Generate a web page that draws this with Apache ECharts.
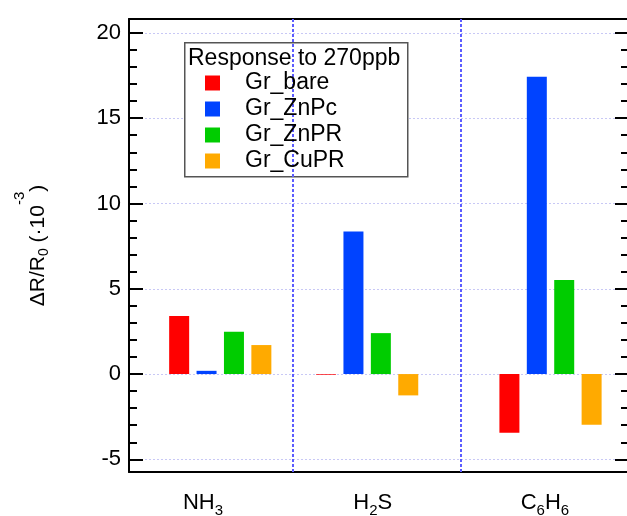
<!DOCTYPE html>
<html>
<head>
<meta charset="utf-8">
<script src="https://cdn.jsdelivr.net/npm/echarts@6/dist/echarts.min.js"></script>
<style>
  html, body { margin: 0; padding: 0; background: #fff; }
  #chart { width: 627px; height: 516px; }
</style>
</head>
<body>
<div id="chart"></div>
<script>
// gases along x (numeric x scale, as in the source plot)
const gasLabels = ["NH{s|3}", "H{s|2}S", "C{s|6}H{s|6}"];
const gasX = [1.068, 1.942, 3.033];   // centre of each bar group
const labelX = [0.965, 1.975, 3.0];   // x of the gas names
const dividerX = [1.5, 2.5];

// response to 270ppb, dR/R0 (x1e-3)
const seriesNames = ["Gr_bare", "Gr_ZnPc", "Gr_ZnPR", "Gr_CuPR"];
const grBare = [3.40, -0.04, -3.44];
const grZnPc = [0.19, 8.35, 17.43];
const grZnPR = [2.48, 2.40, 5.51];
const grCuPR = [1.70, -1.25, -2.97];
const colors = ["#ff0000", "#0043ff", "#00cc00", "#ffaa00"];

const yMin = -5.74, yMax = 20.81;
const xMin = 0.525, xMax = 3.5;

const font = "'Liberation Sans', Arial, sans-serif";
const values = [grBare, grZnPc, grZnPR, grCuPR];

const series = seriesNames.map(function (name, i) {
  return {
    name: name,
    type: "bar",
    xAxisIndex: 0,
    yAxisIndex: 0,
    barWidth: 20,
    barGap: "37%",
    itemStyle: { color: colors[i] },
    data: values[i].map(function (v, j) { return [gasX[j], v]; })
  };
});

// vertical dividers between gases (own series so bar offsets don't shift them)
series.push({
  name: "dividers",
  type: "line",
  xAxisIndex: 0,
  yAxisIndex: 0,
  data: [],
  markLine: {
    silent: true,
    symbol: "none",
    label: { show: false },
    lineStyle: { color: "#5c5cff", type: [3, 2], width: 2 },
    data: dividerX.map(function (x) { return { xAxis: x }; })
  }
});

const tickStyle = { color: "#000", width: 2 };

const option = {
  animation: false,
  backgroundColor: "#fff",
  textStyle: { fontFamily: font },
  grid: { left: 129, top: 19, width: 500, height: 453, containLabel: false, outerBoundsMode: "none" },
  legend: {
    data: seriesNames,
    orient: "vertical",
    left: 205,
    top: 70,
    padding: 0,
    itemGap: 0,
    itemWidth: 15,
    itemHeight: 15,
    icon: "rect",
    z: 6,
    textStyle: { fontSize: 23, color: "#000", lineHeight: 26, padding: [0, 0, 0, 20], fontFamily: font }
  },
  graphic: [
    {
      type: "rect", left: 184, top: 42, z: 5,
      shape: { width: 223, height: 134 },
      style: { fill: "#fff", stroke: "#555", lineWidth: 1.5 }
    },
    {
      type: "text", left: 188, top: 47, z: 7,
      style: { text: "Response to 270ppb", fontSize: 23, fill: "#000", fontFamily: font }
    }
  ],
  xAxis: [
    {
      type: "value", position: "bottom", min: xMin, max: xMax,
      axisLine: { show: true, onZero: false, lineStyle: tickStyle },
      axisTick: { show: false },
      splitLine: { show: false },
      axisLabel: {
        customValues: labelX,
        color: "#000",
        fontSize: 22,
        lineHeight: 30,
        margin: 16,
        formatter: function (v) {
          let best = 0;
          labelX.forEach(function (x, k) { if (Math.abs(x - v) < Math.abs(labelX[best] - v)) best = k; });
          return gasLabels[best];
        },
        rich: { s: { fontSize: 15, lineHeight: 15, verticalAlign: "bottom", color: "#000" } }
      }
    },
    {
      type: "value", position: "top", min: xMin, max: xMax,
      axisLine: { show: true, onZero: false, lineStyle: tickStyle },
      axisTick: { show: false },
      axisLabel: { show: false },
      splitLine: { show: false }
    }
  ],
  yAxis: [
    {
      type: "value", position: "left", min: yMin, max: yMax,
      splitNumber: 5, minInterval: 5, maxInterval: 5,
      axisLine: { show: true, onZero: false, lineStyle: tickStyle },
      axisTick: { show: true, inside: true, length: 14, lineStyle: tickStyle },
      minorTick: { show: true, splitNumber: 5, length: 8, lineStyle: tickStyle },
      axisLabel: { showMinLabel: false, showMaxLabel: false, fontSize: 22, color: "#000", margin: 8 },
      splitLine: { show: true, lineStyle: { color: "#c8c8f5", type: [2, 2], width: 1 } },
      name: "{a|\u0394R/R}{s|0}{a| (\u00b710}{p|-3}{a|)}",
      nameLocation: "middle",
      nameGap: 78,
      nameTextStyle: {
        color: "#000",
        rich: {
          a: { fontSize: 21, lineHeight: 26, color: "#000" },
          s: { fontSize: 14, lineHeight: 14, padding: [12, 0, 0, 0], color: "#000" },
          p: { fontSize: 15, lineHeight: 15, padding: [0, 0, 36, 0], color: "#000" }
        }
      }
    },
    {
      type: "value", position: "right", min: yMin, max: yMax,
      splitNumber: 5, minInterval: 5, maxInterval: 5,
      axisLine: { show: true, onZero: false, lineStyle: tickStyle },
      axisTick: { show: true, inside: true, length: 14, lineStyle: tickStyle },
      minorTick: { show: true, splitNumber: 5, length: 8, lineStyle: tickStyle },
      axisLabel: { show: false },
      splitLine: { show: false }
    }
  ],
  series: series
};

const chart = echarts.init(document.getElementById("chart"), null, { renderer: "canvas" });
chart.setOption(option);
</script>
</body>
</html>
